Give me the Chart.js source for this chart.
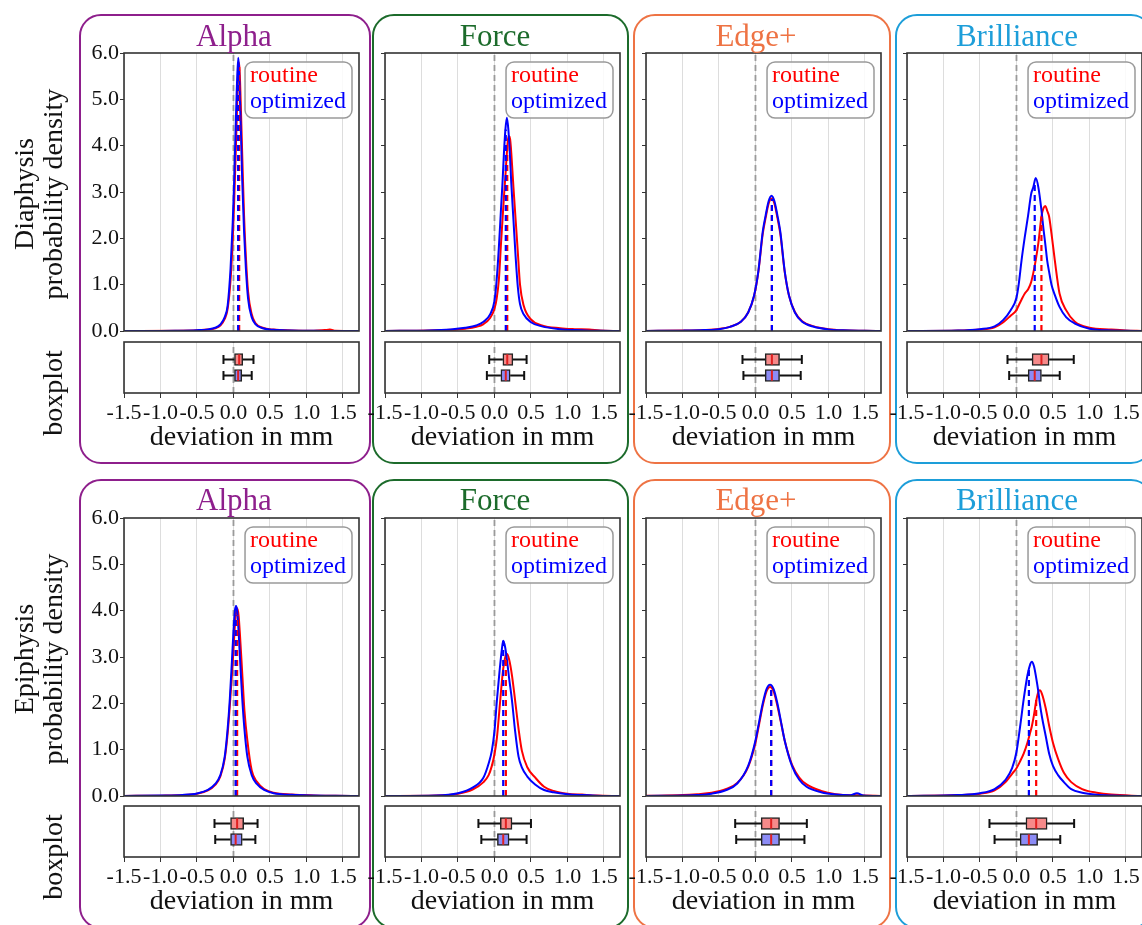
<!DOCTYPE html>
<html>
<head>
<meta charset="utf-8">
<script src="https://cdn.jsdelivr.net/npm/chart.js@4.4.0/dist/chart.umd.min.js"></script>
<style>
html, body { margin: 0; padding: 0; background: #fff; }
body { width: 1142px; height: 925px; position: relative; overflow: hidden; font-family: "Liberation Serif", "Times New Roman", serif; color: #111; }
.frame { position: absolute; box-sizing: border-box; border: 2.5px solid; border-radius: 22px; }
.title { position: absolute; font-size: 31px; line-height: 1; white-space: nowrap; transform: translateX(-50%); }
.ylab { position: absolute; font-size: 28px; line-height: 29px; white-space: nowrap; text-align: center; transform: translate(-50%, -50%) rotate(-90deg); }
canvas { position: absolute; }
</style>
</head>
<body>
<script>
// names / colours
var colNames = ['Alpha', 'Force', 'Edge+', 'Brilliance'];
var colColors = ['#8e1f8c', '#1c6b2b', '#ee7344', '#1d9ed9'];
var rowNames = ['Diaphysis', 'Epiphysis'];
var seriesNames = ['routine', 'optimized'];

// ---- density curves (x in mm, y = probability density) ----
// Alpha / Diaphysis
var alphaDiaX = [-1.5, -0.8, -0.5, -0.35, -0.25, -0.18, -0.12, -0.08, -0.04, -0.01, 0.01, 0.03, 0.045, 0.065, 0.075, 0.085, 0.1, 0.12, 0.145, 0.17, 0.2, 0.25, 0.3, 0.4, 0.55, 0.8, 1.1, 1.25, 1.32, 1.4, 1.72];
var alphaDiaRoutine = [0, 0.005, 0.015, 0.03, 0.06, 0.12, 0.26, 0.48, 1.1, 2.0, 2.8, 3.8, 4.6, 5.6, 5.8, 5.6, 4.9, 3.8, 2.5, 1.6, 0.85, 0.36, 0.17, 0.07, 0.03, 0.012, 0.005, 0.02, 0.03, 0.005, 0];
var alphaDiaOptimized = [0, 0.006, 0.018, 0.035, 0.07, 0.14, 0.3, 0.55, 1.35, 2.35, 3.25, 4.4, 5.2, 5.9, 5.7, 5.2, 4.4, 3.25, 2.15, 1.35, 0.7, 0.3, 0.15, 0.06, 0.025, 0.01, 0.004, 0.002, 0.002, 0.001, 0];
// Force / Diaphysis
var forceDiaX = [-1.5, -0.9, -0.6, -0.4, -0.25, -0.15, -0.06, 0.0, 0.03, 0.06, 0.09, 0.11, 0.13, 0.15, 0.17, 0.19, 0.21, 0.23, 0.26, 0.29, 0.32, 0.35, 0.4, 0.5, 0.65, 0.9, 1.1, 1.3, 1.45, 1.72];
var forceDiaRoutine = [0.002, 0.01, 0.025, 0.05, 0.09, 0.15, 0.28, 0.48, 0.7, 1.1, 1.9, 2.4, 2.9, 3.35, 3.85, 4.2, 4.2, 3.85, 3.1, 2.4, 1.7, 1.0, 0.55, 0.25, 0.12, 0.06, 0.04, 0.03, 0.01, 0];
var forceDiaOptimized = [0.002, 0.012, 0.035, 0.07, 0.12, 0.2, 0.36, 0.65, 1.1, 1.8, 2.65, 3.2, 3.85, 4.35, 4.6, 4.35, 3.85, 3.2, 2.4, 1.6, 0.95, 0.58, 0.36, 0.19, 0.1, 0.04, 0.02, 0.008, 0.004, 0];
// Edge+ / Diaphysis
var edgeDiaX = [-1.5, -1.0, -0.7, -0.5, -0.35, -0.2, -0.1, -0.02, 0.04, 0.1, 0.14, 0.18, 0.22, 0.26, 0.3, 0.34, 0.4, 0.46, 0.54, 0.64, 0.8, 1.0, 1.2, 1.5, 1.72];
var edgeDiaRoutine = [0.002, 0.01, 0.022, 0.045, 0.09, 0.2, 0.4, 0.75, 1.28, 2.1, 2.45, 2.75, 2.86, 2.75, 2.45, 2.1, 1.28, 0.76, 0.41, 0.21, 0.1, 0.04, 0.015, 0.005, 0];
var edgeDiaOptimized = [0.001, 0.008, 0.02, 0.04, 0.09, 0.2, 0.4, 0.76, 1.3, 2.15, 2.5, 2.8, 2.92, 2.8, 2.5, 2.15, 1.3, 0.76, 0.4, 0.2, 0.09, 0.035, 0.015, 0.005, 0];
// Brilliance / Diaphysis
var brilDiaX = [-1.5, -0.8, -0.5, -0.3, -0.18, -0.08, 0.0, 0.03, 0.07, 0.114, 0.16, 0.2, 0.23, 0.264, 0.3, 0.342, 0.37, 0.397, 0.42, 0.447, 0.48, 0.525, 0.59, 0.68, 0.8, 1.0, 1.3, 1.5, 1.72];
var brilDiaRoutine = [0, 0.01, 0.03, 0.08, 0.19, 0.33, 0.45, 0.55, 0.68, 0.81, 0.9, 1.05, 1.25, 1.53, 1.9, 2.47, 2.65, 2.7, 2.6, 2.47, 2.1, 1.53, 0.81, 0.45, 0.2, 0.07, 0.03, 0.01, 0];
var brilDiaOptimized = [0, 0.01, 0.04, 0.1, 0.24, 0.45, 0.72, 1.0, 1.53, 2.03, 2.5, 2.95, 3.1, 3.3, 3.1, 2.61, 2.2, 1.85, 1.53, 1.28, 1.0, 0.78, 0.52, 0.3, 0.16, 0.05, 0.01, 0.005, 0];
// Alpha / Epiphysis
var alphaEpiX = [-1.5, -1.0, -0.7, -0.5, -0.35, -0.25, -0.18, -0.12, -0.08, -0.05, -0.02, 0.0, 0.02, 0.035, 0.05, 0.07, 0.09, 0.12, 0.15, 0.19, 0.25, 0.32, 0.42, 0.55, 0.8, 1.1, 1.4, 1.72];
var alphaEpiRoutine = [0.001, 0.008, 0.02, 0.05, 0.12, 0.24, 0.42, 0.8, 1.35, 1.95, 2.65, 3.15, 3.7, 3.95, 4.05, 3.9, 3.45, 2.65, 1.85, 1.2, 0.55, 0.31, 0.15, 0.07, 0.03, 0.012, 0.005, 0];
var alphaEpiOptimized = [0.001, 0.01, 0.022, 0.055, 0.13, 0.26, 0.45, 0.85, 1.45, 2.1, 2.95, 3.55, 4.0, 4.1, 4.0, 3.55, 2.95, 2.1, 1.45, 0.85, 0.45, 0.26, 0.13, 0.06, 0.025, 0.01, 0.004, 0];
// Force / Epiphysis
var forceEpiX = [-1.5, -0.8, -0.5, -0.3, -0.15, -0.08, -0.036, 0.0, 0.033, 0.07, 0.1, 0.12, 0.145, 0.17, 0.2, 0.24, 0.283, 0.33, 0.375, 0.45, 0.557, 0.68, 0.81, 1.0, 1.2, 1.4, 1.72];
var forceEpiRoutine = [0, 0.01, 0.05, 0.14, 0.3, 0.45, 0.65, 0.9, 1.25, 1.9, 2.45, 2.75, 2.98, 3.07, 2.95, 2.6, 2.06, 1.45, 0.98, 0.62, 0.4, 0.2, 0.11, 0.05, 0.03, 0.01, 0];
var forceEpiOptimized = [0, 0.01, 0.06, 0.18, 0.4, 0.7, 0.98, 1.4, 2.06, 2.7, 3.15, 3.35, 3.22, 2.95, 2.55, 2.06, 1.4, 0.85, 0.62, 0.42, 0.25, 0.13, 0.08, 0.04, 0.02, 0.008, 0];
// Edge+ / Epiphysis
var edgeEpiX = [-1.5, -1.0, -0.8, -0.6, -0.4, -0.25, -0.1, 0.0, 0.05, 0.1, 0.15, 0.2, 0.25, 0.3, 0.35, 0.4, 0.5, 0.6, 0.7, 0.9, 1.1, 1.3, 1.39, 1.48, 1.72];
var edgeEpiRoutine = [0.003, 0.02, 0.04, 0.07, 0.15, 0.28, 0.63, 1.15, 1.55, 1.95, 2.25, 2.35, 2.25, 1.95, 1.58, 1.2, 0.68, 0.4, 0.25, 0.11, 0.04, 0.015, 0.015, 0.01, 0];
var edgeEpiOptimized = [0.002, 0.01, 0.02, 0.05, 0.13, 0.27, 0.65, 1.2, 1.6, 2.0, 2.3, 2.4, 2.3, 2.0, 1.6, 1.2, 0.65, 0.35, 0.2, 0.08, 0.03, 0.015, 0.06, 0.01, 0];
// Brilliance / Epiphysis
var brilEpiX = [-1.5, -0.8, -0.5, -0.3, -0.15, -0.06, 0.0, 0.05, 0.1, 0.15, 0.19, 0.21, 0.24, 0.27, 0.3, 0.32, 0.35, 0.4, 0.45, 0.5, 0.57, 0.65, 0.75, 0.9, 1.1, 1.3, 1.72];
var brilEpiRoutine = [0, 0.02, 0.05, 0.12, 0.3, 0.48, 0.6, 0.75, 0.92, 1.15, 1.38, 1.5, 1.75, 2.05, 2.25, 2.28, 2.2, 1.9, 1.5, 1.15, 0.8, 0.5, 0.3, 0.15, 0.07, 0.03, 0];
var brilEpiOptimized = [0, 0.02, 0.06, 0.15, 0.35, 0.6, 0.95, 1.5, 2.1, 2.6, 2.85, 2.9, 2.8, 2.55, 2.25, 2.0, 1.7, 1.3, 0.9, 0.65, 0.45, 0.3, 0.15, 0.07, 0.025, 0.01, 0];

// ---- boxplots: [whisker low, q1, median, q3, whisker high] ----
var alphaDiaBoxRoutine = [-0.137, 0.014, 0.078, 0.127, 0.274];
var alphaDiaBoxOptimized = [-0.137, 0.014, 0.064, 0.114, 0.25];
var forceDiaBoxRoutine = [-0.072, 0.115, 0.175, 0.252, 0.44];
var forceDiaBoxOptimized = [-0.104, 0.088, 0.155, 0.215, 0.407];
var edgeDiaBoxRoutine = [-0.178, 0.133, 0.225, 0.33, 0.635];
var edgeDiaBoxOptimized = [-0.165, 0.133, 0.225, 0.33, 0.62];
var brilDiaBoxRoutine = [-0.123, 0.214, 0.342, 0.447, 0.785];
var brilDiaBoxOptimized = [-0.10, 0.16, 0.25, 0.342, 0.593];
var alphaEpiBoxRoutine = [-0.26, -0.04, 0.05, 0.14, 0.33];
var alphaEpiBoxOptimized = [-0.25, -0.04, 0.03, 0.12, 0.3];
var forceEpiBoxRoutine = [-0.22, 0.08, 0.156, 0.24, 0.5];
var forceEpiBoxOptimized = [-0.18, 0.04, 0.12, 0.2, 0.44];
var edgeEpiBoxRoutine = [-0.278, 0.078, 0.215, 0.33, 0.704];
var edgeEpiBoxOptimized = [-0.264, 0.078, 0.215, 0.33, 0.671];
var brilEpiBoxRoutine = [-0.37, 0.13, 0.27, 0.42, 0.79];
var brilEpiBoxOptimized = [-0.3, 0.05, 0.17, 0.29, 0.6];

// density value at the median (top of the dashed median lines) [routine, optimized]
var alphaDiaMedianHeight = [5.7, 5.7];
var forceDiaMedianHeight = [4.1, 4.35];
var edgeDiaMedianHeight = [2.85, 2.85];
var brilDiaMedianHeight = [2.47, 3.22];
var alphaEpiMedianHeight = [3.9, 3.9];
var forceEpiMedianHeight = [2.95, 3.35];
var edgeEpiMedianHeight = [2.3, 2.3];
var brilEpiMedianHeight = [2.1, 2.8];

var panels = [
  {row: 0, col: 0, x: alphaDiaX, routine: alphaDiaRoutine, optimized: alphaDiaOptimized, box: [alphaDiaBoxRoutine, alphaDiaBoxOptimized], medH: alphaDiaMedianHeight},
  {row: 0, col: 1, x: forceDiaX, routine: forceDiaRoutine, optimized: forceDiaOptimized, box: [forceDiaBoxRoutine, forceDiaBoxOptimized], medH: forceDiaMedianHeight},
  {row: 0, col: 2, x: edgeDiaX, routine: edgeDiaRoutine, optimized: edgeDiaOptimized, box: [edgeDiaBoxRoutine, edgeDiaBoxOptimized], medH: edgeDiaMedianHeight},
  {row: 0, col: 3, x: brilDiaX, routine: brilDiaRoutine, optimized: brilDiaOptimized, box: [brilDiaBoxRoutine, brilDiaBoxOptimized], medH: brilDiaMedianHeight},
  {row: 1, col: 0, x: alphaEpiX, routine: alphaEpiRoutine, optimized: alphaEpiOptimized, box: [alphaEpiBoxRoutine, alphaEpiBoxOptimized], medH: alphaEpiMedianHeight},
  {row: 1, col: 1, x: forceEpiX, routine: forceEpiRoutine, optimized: forceEpiOptimized, box: [forceEpiBoxRoutine, forceEpiBoxOptimized], medH: forceEpiMedianHeight},
  {row: 1, col: 2, x: edgeEpiX, routine: edgeEpiRoutine, optimized: edgeEpiOptimized, box: [edgeEpiBoxRoutine, edgeEpiBoxOptimized], medH: edgeEpiMedianHeight},
  {row: 1, col: 3, x: brilEpiX, routine: brilEpiRoutine, optimized: brilEpiOptimized, box: [brilEpiBoxRoutine, brilEpiBoxOptimized], medH: brilEpiMedianHeight}
];

// layout (pixels)
var colLeft = [124, 385, 646, 907];
var plotW = 235;
var densTop = [53, 518], densH = 278;
var boxTop = [342, 806], boxH = 51;
var frameCols = [[80, 370], [373, 628], [634, 890], [896, 1152]];
var frameRows = [[15, 463], [480, 928]];
var titleCenter = [234, 495, 756, 1017];
var titleTop = [20, 484];
var boxRowsY = [2.63, 1.37];

var RED = '#ff0000', BLUE = '#0000ff';
var RED_FILL = 'rgb(246,138,138)', BLUE_FILL = 'rgb(140,140,246)';
var GRID = '#dddddd';

Chart.defaults.font.family = '"Liberation Serif", "Times New Roman", serif';
Chart.defaults.color = '#111';

function fmt(v) {
  return (Math.abs(v) < 1e-9 ? 0 : v).toFixed(1);
}

// plugins
const frameBox = {
  id: 'frameBox',
  afterDraw(chart) {
    const {ctx, chartArea: a} = chart;
    ctx.save();
    ctx.strokeStyle = '#333';
    ctx.lineWidth = 1.6;
    ctx.strokeRect(a.left, a.top, a.right - a.left, a.bottom - a.top);
    ctx.restore();
  }
};

const zeroLine = {
  id: 'zeroLine',
  beforeDatasetsDraw(chart) {
    const {ctx, chartArea: a} = chart;
    const px = chart.scales.x.getPixelForValue(0);
    ctx.save();
    ctx.strokeStyle = '#9a9a9a';
    ctx.lineWidth = 1.8;
    ctx.setLineDash([6, 4]);
    ctx.beginPath();
    ctx.moveTo(px, a.bottom);
    ctx.lineTo(px, a.top);
    ctx.stroke();
    ctx.restore();
  }
};

const legendBox = {
  id: 'legendBox',
  afterDatasetsDraw(chart) {
    const {ctx, chartArea: a} = chart;
    const items = chart.data.datasets.filter(d => d.inLegend);
    ctx.save();
    ctx.font = '24px "Liberation Serif", "Times New Roman", serif';
    const w = Math.max.apply(null, items.map(d => ctx.measureText(d.label).width)) + 11;
    const h = items.length * 26 + 4;
    const x = a.right - w - 7, y = a.top + 9;
    ctx.beginPath();
    ctx.roundRect(x, y, w, h, 8);
    ctx.fillStyle = 'rgba(255,255,255,0.85)';
    ctx.fill();
    ctx.strokeStyle = '#9a9a9a';
    ctx.lineWidth = 1.5;
    ctx.stroke();
    ctx.textBaseline = 'alphabetic';
    items.forEach((d, i) => {
      ctx.fillStyle = d.borderColor;
      ctx.fillText(d.label, x + 5, y + 20 + i * 26);
    });
    ctx.restore();
  }
};

const whiskers = {
  id: 'whiskers',
  beforeDatasetsDraw(chart) {
    const {ctx} = chart;
    const x = chart.scales.x, y = chart.scales.y;
    const stats = chart.data.datasets[0].stats;
    ctx.save();
    ctx.strokeStyle = '#111';
    ctx.lineWidth = 2;
    stats.forEach((b, k) => {
      const py = y.getPixelForValue(boxRowsY[k]);
      ctx.beginPath();
      ctx.moveTo(x.getPixelForValue(b[0]), py);
      ctx.lineTo(x.getPixelForValue(b[1]), py);
      ctx.moveTo(x.getPixelForValue(b[3]), py);
      ctx.lineTo(x.getPixelForValue(b[4]), py);
      [b[0], b[4]].forEach(v => {
        const px = x.getPixelForValue(v);
        ctx.moveTo(px, py - 4.5);
        ctx.lineTo(px, py + 4.5);
      });
      ctx.stroke();
    });
    ctx.restore();
  },
  afterDatasetsDraw(chart) {
    const {ctx} = chart;
    const x = chart.scales.x, y = chart.scales.y;
    const stats = chart.data.datasets[0].stats;
    ctx.save();
    ctx.strokeStyle = '#e02020';
    ctx.lineWidth = 2;
    stats.forEach((b, k) => {
      const py = y.getPixelForValue(boxRowsY[k]);
      const px = x.getPixelForValue(b[2]);
      ctx.beginPath();
      ctx.moveTo(px, py - 5.2);
      ctx.lineTo(px, py + 5.2);
      ctx.stroke();
    });
    ctx.restore();
  }
};

function addDiv(cls, html, css) {
  const d = document.createElement('div');
  d.className = cls;
  d.innerHTML = html;
  Object.assign(d.style, css);
  document.body.appendChild(d);
  return d;
}

function makeCanvas(x, y, w, h) {
  const c = document.createElement('canvas');
  c.width = w; c.height = h;
  c.style.left = x + 'px'; c.style.top = y + 'px';
  c.style.width = w + 'px'; c.style.height = h + 'px';
  document.body.appendChild(c);
  return c;
}

function densityChart(p) {
  const left = colLeft[p.col], top = densTop[p.row];
  const cv = makeCanvas(left - 60, top - 16, plotW + 72, densH + 32);
  const pts = ys => p.x.map((x, i) => ({x: x, y: ys[i]}));
  const medLine = k => [{x: p.box[k][2], y: 0}, {x: p.box[k][2], y: p.medH[k]}];
  const curve = {borderWidth: 2, pointRadius: 0, cubicInterpolationMode: 'monotone', fill: false};
  const dash = {borderWidth: 2.2, pointRadius: 0, borderDash: [6, 4], fill: false};
  new Chart(cv, {
    type: 'line',
    data: {
      datasets: [
        Object.assign({label: seriesNames[0], data: pts(p.routine), borderColor: RED, order: 4, inLegend: true}, curve),
        Object.assign({label: seriesNames[1], data: pts(p.optimized), borderColor: BLUE, order: 3, inLegend: true}, curve),
        Object.assign({label: 'routine median', data: medLine(0), borderColor: RED, order: 2}, dash),
        Object.assign({label: 'optimized median', data: medLine(1), borderColor: BLUE, order: 1}, dash)
      ]
    },
    options: {
      responsive: false,
      animation: false,
      layout: {padding: {left: 0, right: 12, top: 16, bottom: 16}},
      plugins: {legend: {display: false}, tooltip: {enabled: false}},
      scales: {
        x: {
          type: 'linear', min: -1.5, max: 1.72,
          border: {display: false},
          grid: {color: GRID, drawTicks: false},
          ticks: {display: false, stepSize: 0.5, includeBounds: false},
          afterFit: s => { s.height = 0; }
        },
        y: {
          type: 'linear', min: 0, max: 6,
          border: {display: false},
          grid: {drawOnChartArea: false, tickLength: 4, tickColor: '#333'},
          ticks: {display: p.col === 0, stepSize: 1, padding: 1, font: {size: 22}, color: '#111', callback: fmt},
          afterFit: s => { s.width = 60; }
        }
      }
    },
    plugins: [zeroLine, legendBox, frameBox]
  });
}

function boxChart(p) {
  const left = colLeft[p.col], top = boxTop[p.row];
  const cv = makeCanvas(left - 60, top - 6, plotW + 72, boxH + 6 + 62);
  new Chart(cv, {
    type: 'bar',
    data: {
      datasets: [{
        label: 'boxplot',
        data: p.box.map((b, k) => ({x: [b[1], b[3]], y: boxRowsY[k]})),
        stats: p.box,
        backgroundColor: [RED_FILL, BLUE_FILL],
        borderColor: '#222',
        borderWidth: 1.5,
        borderSkipped: false,
        barThickness: 12
      }]
    },
    options: {
      indexAxis: 'y',
      responsive: false,
      animation: false,
      layout: {padding: {left: 60, right: 12, top: 6, bottom: 0}},
      plugins: {legend: {display: false}, tooltip: {enabled: false}},
      scales: {
        x: {
          type: 'linear', min: -1.5, max: 1.72,
          border: {display: false},
          grid: {color: GRID, tickColor: '#333', tickLength: 5},
          ticks: {stepSize: 0.5, includeBounds: false, padding: 2, autoSkip: false, maxRotation: 0, font: {size: 22}, color: '#111', callback: fmt},
          title: {display: true, text: 'deviation in mm', color: '#111', font: {size: 28, lineHeight: 1}, padding: {top: 0, bottom: 3}},
          afterFit: s => { s.height = 62; }
        },
        y: {type: 'linear', min: 0, max: 4, offset: false, display: false}
      }
    },
    plugins: [zeroLine, whiskers, frameBox]
  });
}

// frames and titles
for (let r = 0; r < 2; r++) {
  for (let c = 0; c < 4; c++) {
    const fc = frameCols[c], fr = frameRows[r];
    addDiv('frame', '', {
      left: (fc[0] - 1.25) + 'px', top: (fr[0] - 1.25) + 'px',
      width: (fc[1] - fc[0] + 2.5) + 'px', height: (fr[1] - fr[0] + 2.5) + 'px',
      borderColor: colColors[c]
    });
  }
}

panels.forEach(p => {
  densityChart(p);
  boxChart(p);
});

for (let r = 0; r < 2; r++) {
  for (let c = 0; c < 4; c++) {
    addDiv('title', colNames[c], {left: titleCenter[c] + 'px', top: titleTop[r] + 'px', color: colColors[c]});
  }
  addDiv('ylab', rowNames[r] + '<br>probability density', {left: '38px', top: (densTop[r] + 141) + 'px'});
  addDiv('ylab', 'boxplot', {left: '52px', top: (boxTop[r] + 51) + 'px'});
}
</script>
</body>
</html>
